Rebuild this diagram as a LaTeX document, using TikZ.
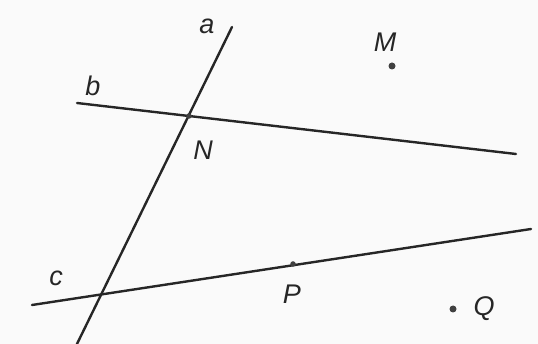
\documentclass[tikz,border=0pt]{standalone}
\usepackage{fontspec}
\setmainfont{Liberation Sans}
\begin{document}
\begin{tikzpicture}[x=1pt,y=-1pt,
  ln/.style={line width=2.4pt,draw=black!85,line cap=round},
  dotpt/.style={circle,fill=black!75,inner sep=0pt,minimum size=7pt},
  lbl/.style={text=black!85,font=\fontsize{27}{27}\selectfont\itshape,inner sep=0pt}]
\fill[black!2] (0,0) rectangle (538,344);
\useasboundingbox (0,0) rectangle (538,344);
% line endpoints
\coordinate (a1) at (232,27);
\coordinate (a2) at (76,346);
\coordinate (b1) at (77,103);
\coordinate (b2) at (516,154);
\coordinate (c1) at (32,305);
\coordinate (c2) at (531,229);
\draw[ln] (a1) -- (a2);
\draw[ln] (b1) -- (b2);
\draw[ln] (c1) -- (c2);
% points
\node[dotpt] (Mp) at (392,66) {};
\node[dotpt] (Qp) at (453,309) {};
\node[dotpt,minimum size=5.5pt] (Pp) at (293,264) {};
\node[dotpt,minimum size=5.5pt] (Np) at (189,116) {};
% labels
\node[lbl] (la) at (207,26) {a};
\node[lbl] (lb) at (93,86) {b};
\node[lbl] (lc) at (56,278) {c};
\node[lbl] (lN) at (203,150) {N};
\node[lbl] (lM) at (385,42) {M};
\node[lbl] (lP) at (292,294) {P};
\node[lbl] (lQ) at (484,309) {Q};
\end{tikzpicture}
\end{document}
